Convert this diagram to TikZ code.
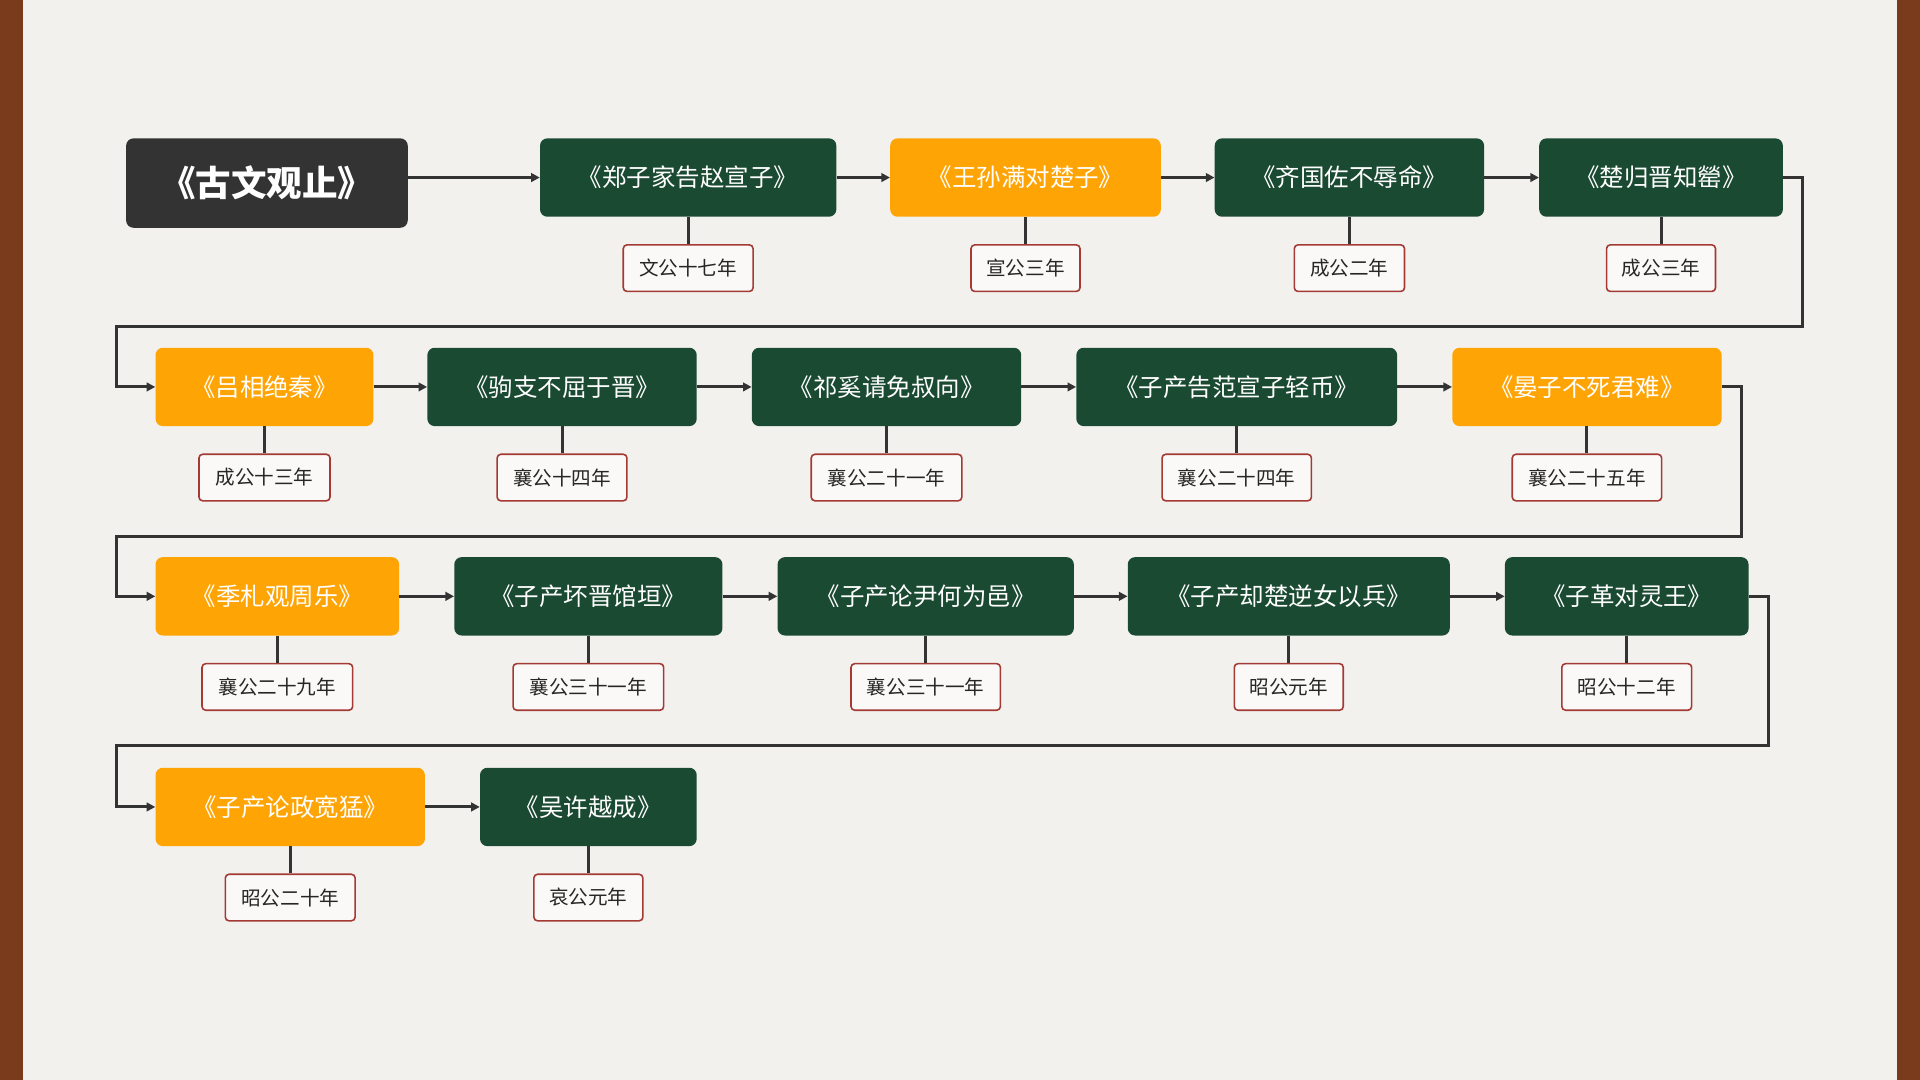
\documentclass[tikz,border=0pt]{standalone}
\usepackage{fontspec}
\setmainfont{Noto Sans CJK SC}
\usetikzlibrary{arrows.meta}
\definecolor{grn}{HTML}{1B4A32}
\definecolor{org}{HTML}{FFA405}
\definecolor{dk}{HTML}{333333}
\definecolor{dred}{HTML}{A33A34}
\definecolor{paper}{HTML}{F2F1EE}
\definecolor{wood}{HTML}{7A3A1C}
\tikzset{
 box/.style={rounded corners=6pt,text=white,font=\fontsize{20}{24}\selectfont,minimum height=64pt,inner sep=0pt},
 g/.style={box,fill=grn},
 o/.style={box,fill=org},
 dt/.style={draw=dred,line width=1.3pt,fill=white!60!paper,rounded corners=3pt,minimum height=38pt,inner sep=0pt,font=\fontsize{16}{19}\selectfont,text=black!85},
 arr/.style={draw=dk,line width=2.5pt,-{Triangle[length=7pt,width=7pt]}},
 ln/.style={draw=dk,line width=2.5pt}
}
\newcommand\mn[6]{\node[#1,minimum width=#3pt] (#2) at (#4,#5) {#6};}
\newcommand\dn[5]{\node[dt,minimum width=#2pt] (#1d) at (#3,#4) {#5}; \draw[ln] (#1.south) -- (#1d.north);}
\begin{document}
\begin{tikzpicture}[x=1pt,y=-1pt]
\fill[wood] (0,0) rectangle (1568,882);
\fill[paper] (19,0) rectangle (1549,882);
\useasboundingbox (0,0) rectangle (1568,882);
\node[box,fill=dk!100!black,fill=black!80,minimum width=230pt,minimum height=73pt,font=\fontsize{29}{34}\selectfont\bfseries] (t) at (218,149.5) {《古文观止》};
\mn{g}{a}{242}{562}{145}{《郑子家告赵宣子》}
\mn{o}{b}{221}{837.5}{145}{《王孙满对楚子》}
\mn{g}{c}{220}{1102}{145}{《齐国佐不辱命》}
\mn{g}{d}{199}{1356.5}{145}{《楚归晋知罃》}
\dn{a}{106}{562}{219}{文公十七年}
\dn{b}{89}{837.5}{219}{宣公三年}
\dn{c}{90}{1102}{219}{成公二年}
\dn{d}{89}{1356.5}{219}{成公三年}
\mn{o}{e}{178}{216}{316}{《吕相绝秦》}
\mn{g}{f}{220}{459}{316}{《驹支不屈于晋》}
\mn{g}{h}{220}{724}{316}{《祁奚请免叔向》}
\mn{g}{i}{262}{1010}{316}{《子产告范宣子轻币》}
\mn{o}{j}{220}{1296}{316}{《晏子不死君难》}
\dn{e}{107}{216}{390}{成公十三年}
\dn{f}{106}{459}{390}{襄公十四年}
\dn{h}{123}{724}{390}{襄公二十一年}
\dn{i}{122}{1010}{390}{襄公二十四年}
\dn{j}{122}{1296}{390}{襄公二十五年}
\mn{o}{k}{199}{226.5}{487}{《季札观周乐》}
\mn{g}{l}{219}{480.5}{487}{《子产坏晋馆垣》}
\mn{g}{m}{242}{756}{487}{《子产论尹何为邑》}
\mn{g}{n}{263}{1052.5}{487}{《子产却楚逆女以兵》}
\mn{g}{p}{199}{1328.5}{487}{《子革对灵王》}
\dn{k}{123}{226.5}{561}{襄公二十九年}
\dn{l}{123}{480.5}{561}{襄公三十一年}
\dn{m}{122}{756}{561}{襄公三十一年}
\dn{n}{89}{1052.5}{561}{昭公元年}
\dn{p}{106}{1328.5}{561}{昭公十二年}
\mn{o}{q}{220}{237}{659}{《子产论政宽猛》}
\mn{g}{r}{177}{480.5}{659}{《吴许越成》}
\dn{q}{106}{237}{733}{昭公二十年}
\dn{r}{89}{480.5}{733}{哀公元年}
\draw[arr] (t.east|-a.west) -- (a.west);
\draw[arr] (a) -- (b); \draw[arr] (b) -- (c); \draw[arr] (c) -- (d);
\draw[arr] (d.east) -- (1472,145) -- (1472,267) -- (95,267) -- (95,316) -- (e.west);
\draw[arr] (e) -- (f); \draw[arr] (f) -- (h); \draw[arr] (h) -- (i); \draw[arr] (i) -- (j);
\draw[arr] (j.east) -- (1422,316) -- (1422,438) -- (95,438) -- (95,487) -- (k.west);
\draw[arr] (k) -- (l); \draw[arr] (l) -- (m); \draw[arr] (m) -- (n); \draw[arr] (n) -- (p);
\draw[arr] (p.east) -- (1444,487) -- (1444,609) -- (95,609) -- (95,659) -- (q.west);
\draw[arr] (q) -- (r);
\end{tikzpicture}
\end{document}
